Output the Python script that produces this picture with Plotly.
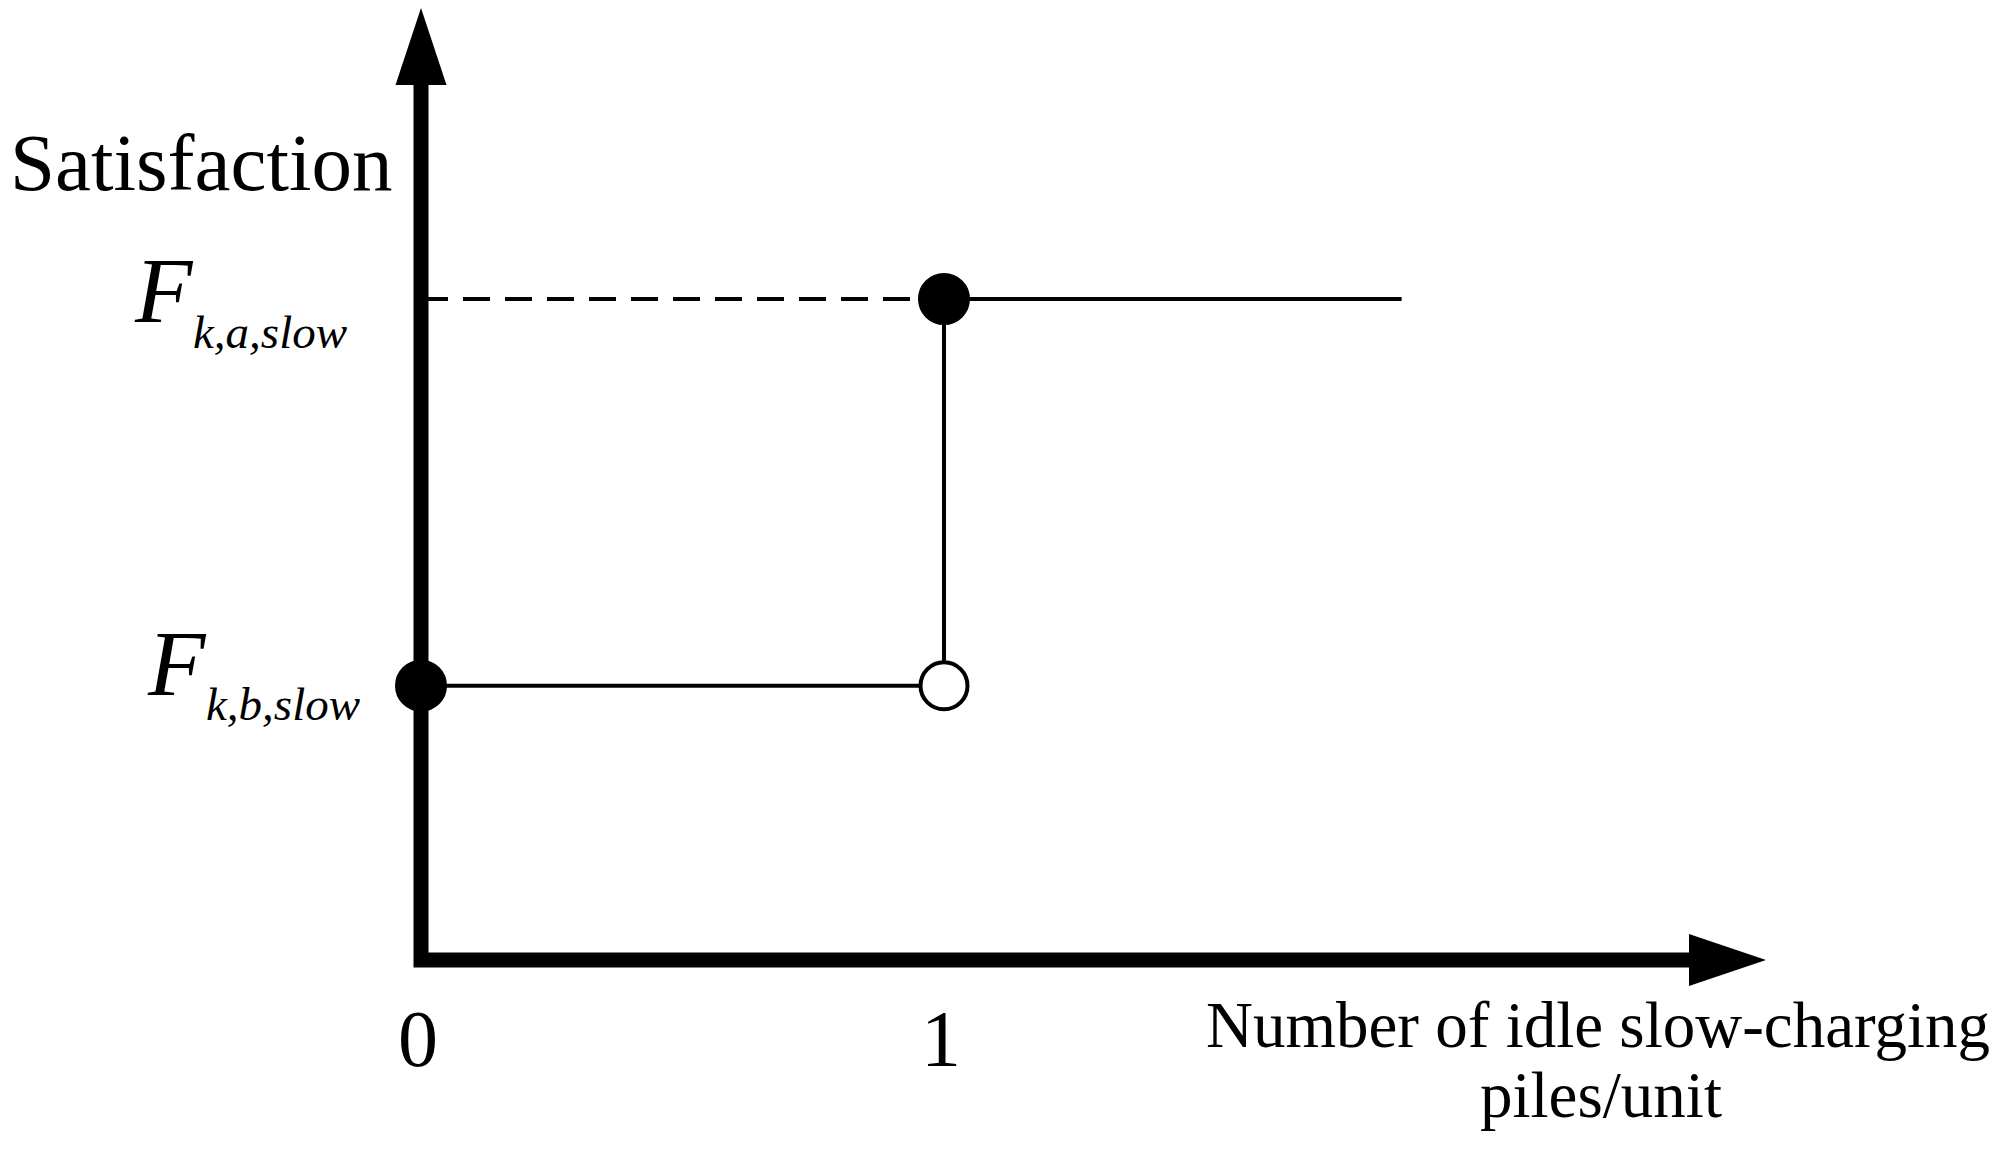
import plotly.graph_objects as go

# ---------------- data ----------------
X_TICKS = [0, 1]
X_TICK_LABELS = ["0", "1"]
F_A = 1.0      # satisfaction level F_{k,a,slow}
F_B = 0.415    # satisfaction level F_{k,b,slow}
X_STEP = 1
X_END = 1.875

LOW_X = [0, X_STEP]
LOW_Y = [F_B, F_B]
RISE_X = [X_STEP, X_STEP]
RISE_Y = [F_B, F_A]
HIGH_X = [X_STEP, X_END]
HIGH_Y = [F_A, F_A]
GUIDE_X = [0, X_STEP]
GUIDE_Y = [F_A, F_A]
FILLED_X = [0, X_STEP]
FILLED_Y = [F_B, F_A]
OPEN_X = [X_STEP]
OPEN_Y = [F_B]

Y_LABEL = "Satisfaction"
X_LABEL_LINES = ["Number of idle slow-charging", "piles/unit"]
LEVEL_VALUES = [F_A, F_B]
LEVEL_MAIN = "F"
LEVEL_SUBS = ["k,a,slow", "k,b,slow"]

# ---------------- layout geometry (screen pixels) ----------------
PAGE_MARGIN = 8                      # default body margin of the html page
W, H = 2011 - 2 * PAGE_MARGIN, 1152 - 2 * PAGE_MARGIN
X_ORIGIN_PX, PX_PER_X = 421, 523
Y_ORIGIN_PX, PX_PER_Y = 960, 661
FONT = "Liberation Serif, Times New Roman, serif"


def dx(px):
    return (px - X_ORIGIN_PX) / PX_PER_X


def dy(py):
    return (Y_ORIGIN_PX - py) / PX_PER_Y


def pxp(px):
    return (px - PAGE_MARGIN) / W


def pyp(py):
    return 1 - (py - PAGE_MARGIN) / H


fig = go.Figure()

LINE = dict(color="black", width=4)
fig.add_trace(go.Scatter(x=GUIDE_X, y=GUIDE_Y, mode="lines",
                         line=dict(color="black", width=4, dash="27px,15px"),
                         hoverinfo="skip"))
fig.add_trace(go.Scatter(x=LOW_X, y=LOW_Y, mode="lines", line=LINE, hoverinfo="skip"))
fig.add_trace(go.Scatter(x=RISE_X, y=RISE_Y, mode="lines", line=LINE, hoverinfo="skip"))
fig.add_trace(go.Scatter(x=HIGH_X, y=HIGH_Y, mode="lines", line=LINE, hoverinfo="skip"))
fig.add_trace(go.Scatter(x=FILLED_X, y=FILLED_Y, mode="markers",
                         marker=dict(color="black", size=48,
                                     line=dict(color="black", width=4)),
                         hoverinfo="skip"))
fig.add_trace(go.Scatter(x=OPEN_X, y=OPEN_Y, mode="markers",
                         marker=dict(color="white", size=47,
                                     line=dict(color="black", width=4)),
                         hoverinfo="skip"))

# axes with arrows
shapes = [
    dict(type="path", xref="x", yref="y", layer="below",
         path=f"M 0,{dy(85)} L 0,0 L {dx(1689)},0",
         line=dict(color="black", width=15), fillcolor="rgba(0,0,0,0)"),
    dict(type="path", xref="x", yref="y", layer="below",
         path=f"M {dx(X_ORIGIN_PX - 25.5)},{dy(85)} L 0,{dy(8)} L {dx(X_ORIGIN_PX + 25.5)},{dy(85)} Z",
         line=dict(width=0), fillcolor="black"),
    dict(type="path", xref="x", yref="y", layer="below",
         path=f"M {dx(1689)},{dy(934)} L {dx(1766)},0 L {dx(1689)},{dy(986)} Z",
         line=dict(width=0), fillcolor="black"),
]

ann = []
# y-axis title
ann.append(dict(text=Y_LABEL, xref="paper", yref="paper", x=pxp(8), y=pyp(190 - 0.3375 * 81),
                xanchor="left", yanchor="middle", showarrow=False,
                font=dict(family=FONT, size=81, color="black")))
# x-axis title (two lines)
ann.append(dict(text=X_LABEL_LINES[0], xref="paper", yref="paper", x=pxp(1598),
                y=pyp(1047 - 0.3375 * 65), xanchor="center", yanchor="middle", showarrow=False,
                font=dict(family=FONT, size=65, color="black")))
ann.append(dict(text=X_LABEL_LINES[1], xref="paper", yref="paper", x=pxp(1601),
                y=pyp(1117 - 0.3375 * 65), xanchor="center", yanchor="middle", showarrow=False,
                font=dict(family=FONT, size=65, color="black")))
# x tick labels
for xv, lab in zip(X_TICKS, X_TICK_LABELS):
    ann.append(dict(text=lab, xref="x", yref="paper", x=xv, xshift=-3,
                    y=pyp(1066 - 0.3375 * 80), xanchor="center", yanchor="middle",
                    showarrow=False, font=dict(family=FONT, size=80, color="black")))
# level labels F_{k,a,slow}, F_{k,b,slow}
F_SIZE, SUB_SIZE = 94, 47
F_LEFT = [133, 146]
F_BASE = [322, 695]
SUB_BASE = [348, 720]
F_ADV = 0.611 * F_SIZE + 2          # advance width of the italic F
for i, sub in enumerate(LEVEL_SUBS):
    ann.append(dict(text=f"<i>{LEVEL_MAIN}</i>", xref="paper", yref="paper", x=pxp(F_LEFT[i]),
                    y=pyp(F_BASE[i] - 0.3375 * F_SIZE), xanchor="left", yanchor="middle",
                    borderpad=0, showarrow=False,
                    font=dict(family=FONT, size=F_SIZE, color="black")))
    ann.append(dict(text=f"<i>{sub}</i>", xref="paper", yref="paper", x=pxp(F_LEFT[i] + F_ADV),
                    y=pyp(SUB_BASE[i] - 0.3375 * SUB_SIZE), xanchor="left", yanchor="middle",
                    borderpad=0, showarrow=False,
                    font=dict(family=FONT, size=SUB_SIZE, color="black")))

fig.update_layout(
    width=W, height=H,
    margin=dict(l=0, r=0, t=0, b=0),
    paper_bgcolor="white", plot_bgcolor="rgba(0,0,0,0)",
    showlegend=False,
    shapes=shapes, annotations=ann,
    xaxis=dict(range=[dx(PAGE_MARGIN), dx(PAGE_MARGIN + W)], visible=False, fixedrange=True),
    yaxis=dict(range=[dy(PAGE_MARGIN + H), dy(PAGE_MARGIN)], visible=False, fixedrange=True),
)

fig.write_html("out.html", config={"displayModeBar": False})
